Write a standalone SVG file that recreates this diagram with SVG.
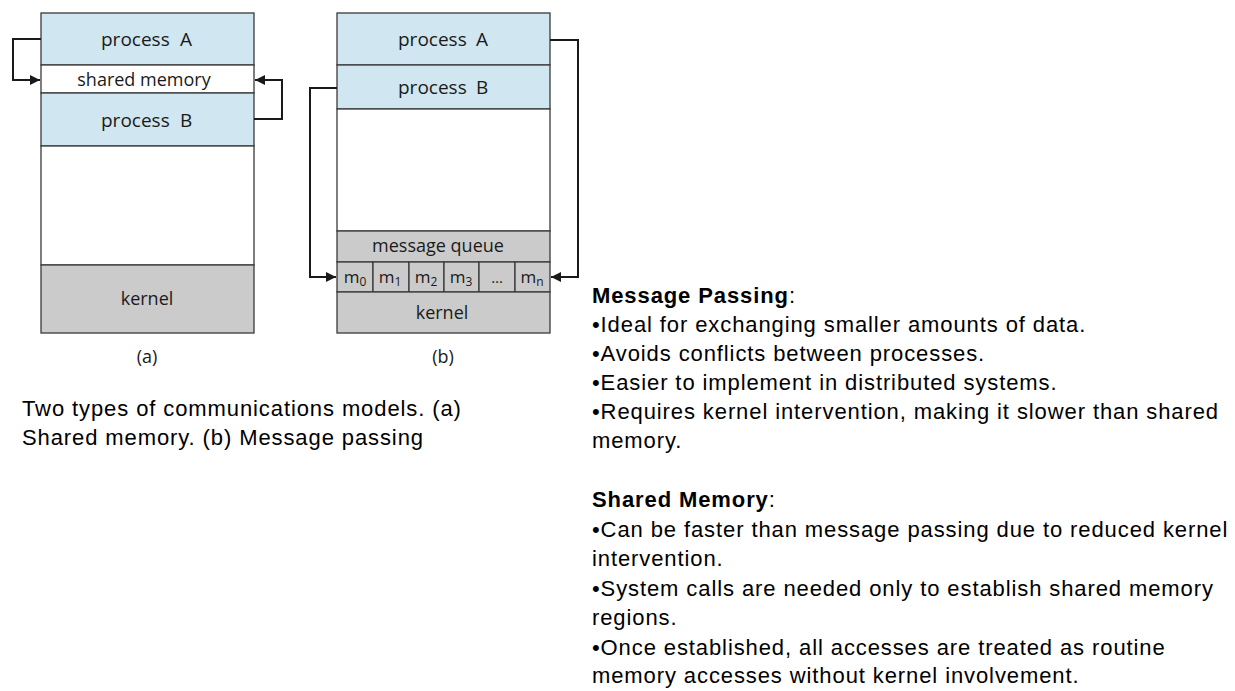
<svg xmlns="http://www.w3.org/2000/svg" width="1235" height="691" viewBox="0 0 1235 691">
<style>
.blk{stroke:#3a3a3a;stroke-width:1.3}
.proc{fill:#d0e6f0}
.wh{fill:#ffffff}
.gr{fill:#cbcbcb}
.dl{font-family:"Open Sans","Liberation Sans",sans-serif;font-size:18px;fill:#1a1a1a;text-anchor:middle}
.pl{font-family:"Open Sans","Liberation Sans",sans-serif;font-size:19px;fill:#1a1a1a}
.sm{font-size:12px}
.tx{font-family:"Liberation Sans",Arial,sans-serif;font-size:22px;letter-spacing:0.9px;fill:#000}
.b{font-weight:bold}
.con{fill:none;stroke:#1a1a1a;stroke-width:2}
</style>
<defs>
<marker id="ah" viewBox="0 0 10 10" refX="10" refY="5" markerWidth="5" markerHeight="5" orient="auto" markerUnits="strokeWidth">
<path d="M0,0 L10,5 L0,10 z" fill="#1a1a1a"/>
</marker>
</defs>
<rect width="1235" height="691" fill="#ffffff"/>

<g id="diagram-a">
<g id="a-processA"><rect class="blk proc" x="41" y="13" width="213" height="52"/><text class="pl" y="46"><tspan x="101">process</tspan><tspan x="180">A</tspan></text></g>
<g id="a-shared"><rect class="blk wh" x="41" y="65" width="213" height="28"/><text class="dl" x="144" y="86">shared memory</text></g>
<g id="a-processB"><rect class="blk proc" x="41" y="93" width="213" height="53"/><text class="pl" y="127"><tspan x="101">process</tspan><tspan x="180">B</tspan></text></g>
<g id="a-free"><rect class="blk wh" x="41" y="146" width="213" height="119"/></g>
<g id="a-kernel"><rect class="blk gr" x="41" y="265" width="213" height="68"/><text class="dl" x="147" y="305">kernel</text></g>
<text class="dl" x="147" y="363">(a)</text>
</g>

<g id="diagram-b">
<g id="b-processA"><rect class="blk proc" x="337" y="13" width="213" height="52"/><text class="pl" y="46"><tspan x="398">process</tspan><tspan x="476">A</tspan></text></g>
<g id="b-processB"><rect class="blk proc" x="337" y="65" width="213" height="44"/><text class="pl" y="94"><tspan x="398">process</tspan><tspan x="476">B</tspan></text></g>
<g id="b-free"><rect class="blk wh" x="337" y="109" width="213" height="122"/></g>
<g id="b-queue"><rect class="blk gr" x="337" y="231" width="213" height="31"/><text class="dl" x="438" y="252">message queue</text></g>
<g id="b-cells">
<rect class="blk gr" x="337" y="262" width="36" height="30"/><text class="dl" x="355" y="283" style="font-size:17px">m<tspan class="sm" dy="3">0</tspan></text>
<rect class="blk gr" x="373" y="262" width="36" height="30"/><text class="dl" x="390" y="283" style="font-size:17px">m<tspan class="sm" dy="3">1</tspan></text>
<rect class="blk gr" x="409" y="262" width="35" height="30"/><text class="dl" x="426" y="283" style="font-size:17px">m<tspan class="sm" dy="3">2</tspan></text>
<rect class="blk gr" x="444" y="262" width="35" height="30"/><text class="dl" x="461" y="283" style="font-size:17px">m<tspan class="sm" dy="3">3</tspan></text>
<rect class="blk gr" x="479" y="262" width="36" height="30"/><text class="dl" x="497" y="283" style="font-size:15px">…</text>
<rect class="blk gr" x="515" y="262" width="35" height="30"/><text class="dl" x="532" y="283" style="font-size:17px">m<tspan class="sm" dy="3">n</tspan></text>
</g>
<g id="b-kernel"><rect class="blk gr" x="337" y="292" width="213" height="41"/><text class="dl" x="442" y="319">kernel</text></g>
<text class="dl" x="443" y="363">(b)</text>
</g>

<g id="connectors">
<path class="con" d="M41,39 H13 V80 H40" marker-end="url(#ah)"/>
<path class="con" d="M254,119 H282 V80 H255" marker-end="url(#ah)"/>
<path class="con" d="M337,88 H310 V277 H336" marker-end="url(#ah)"/>
<path class="con" d="M550,40 H578 V277 H551" marker-end="url(#ah)"/>
</g>

<g id="caption">
<text class="tx" x="22" y="416">Two types of communications models. (a)</text>
<text class="tx" x="22" y="445">Shared memory. (b) Message passing</text>
</g>

<g id="notes">
<text class="tx" x="592" y="303"><tspan class="b">Message Passing</tspan>:</text>
<text class="tx" x="592" y="332">•Ideal for exchanging smaller amounts of data.</text>
<text class="tx" x="592" y="361">•Avoids conflicts between processes.</text>
<text class="tx" x="592" y="390">•Easier to implement in distributed systems.</text>
<text class="tx" x="592" y="419">•Requires kernel intervention, making it slower than shared</text>
<text class="tx" x="592" y="448">memory.</text>
<text class="tx" x="592" y="507"><tspan class="b">Shared Memory</tspan>:</text>
<text class="tx" x="592" y="537">•Can be faster than message passing due to reduced kernel</text>
<text class="tx" x="592" y="566">intervention.</text>
<text class="tx" x="592" y="596">•System calls are needed only to establish shared memory</text>
<text class="tx" x="592" y="625">regions.</text>
<text class="tx" x="592" y="655">•Once established, all accesses are treated as routine</text>
<text class="tx" x="592" y="683">memory accesses without kernel involvement.</text>
</g>
</svg>
